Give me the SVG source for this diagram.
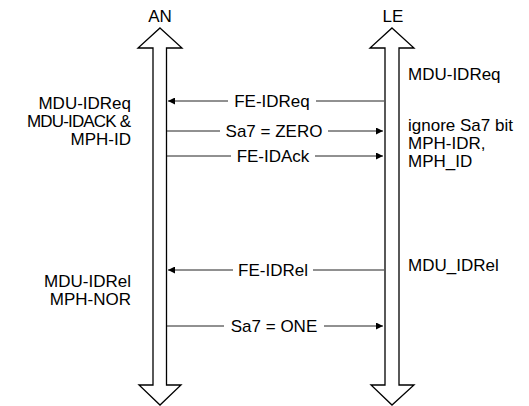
<svg xmlns="http://www.w3.org/2000/svg" width="529" height="406" viewBox="0 0 529 406">
<defs>
<marker id="ah" viewBox="0 0 10 10" refX="10" refY="5" markerWidth="9" markerHeight="7" markerUnits="userSpaceOnUse" orient="auto">
<path d="M0,0 L10,5 L0,10 z" fill="#000"/>
</marker>
<style>
text{font-family:"Liberation Sans",Arial,sans-serif;font-size:17px;fill:#000}
.lab{text-anchor:middle}
.l{text-anchor:end}
.bar{fill:#fff;stroke:#000;stroke-width:1.3;stroke-linejoin:miter}
.c{stroke:#222;stroke-width:1;fill:none}
.bg{fill:#fff}
</style>
</defs>
<rect width="529" height="406" fill="#fff"/>
<g id="AN">
<polygon class="bar" points="160,28 182,48 166.5,48 166.5,385 181,385 160,405 139,385 153,385 153,48 138,48"/>
<text class="lab" x="160" y="22">AN</text>
<text class="l" x="131" y="109">MDU-IDReq</text>
<text class="l" x="131" y="127" textLength="104" lengthAdjust="spacing">MDU-IDACK &amp;</text>
<text class="l" x="131" y="145">MPH-ID</text>
<text class="l" x="131" y="287">MDU-IDRel</text>
<text class="l" x="131" y="305">MPH-NOR</text>
</g>
<g id="LE">
<polygon class="bar" points="392,28 414,48 399,48 399,385 414,385 392,405 371,385 385,385 385,48 370,48"/>
<text class="lab" x="393" y="22">LE</text>
<text x="408" y="80">MDU-IDReq</text>
<text x="408" y="131">ignore Sa7 bit</text>
<text x="408" y="149">MPH-IDR,</text>
<text x="408" y="167">MPH_ID</text>
<text x="408" y="271">MDU_IDRel</text>
</g>
<g id="connectors">
<line class="c" x1="384" y1="101" x2="168" y2="101" marker-end="url(#ah)"/>
<rect class="bg" x="228" y="93" width="88" height="16"/>
<text class="lab" x="272" y="107">FE-IDReq</text>
<line class="c" x1="167" y1="131" x2="383" y2="131" marker-end="url(#ah)"/>
<rect class="bg" x="220" y="123" width="108" height="16"/>
<text class="lab" x="274" y="137">Sa7 = ZERO</text>
<line class="c" x1="167" y1="156" x2="383" y2="156" marker-end="url(#ah)"/>
<rect class="bg" x="231" y="148" width="84" height="16"/>
<text class="lab" x="273" y="162">FE-IDAck</text>
<line class="c" x1="384" y1="270" x2="168" y2="270" marker-end="url(#ah)"/>
<rect class="bg" x="233" y="262" width="80" height="16"/>
<text class="lab" x="273" y="276">FE-IDRel</text>
<line class="c" x1="167" y1="326" x2="383" y2="326" marker-end="url(#ah)"/>
<rect class="bg" x="224" y="318" width="100" height="16"/>
<text class="lab" x="274" y="332">Sa7 = ONE</text>
</g>
</svg>
